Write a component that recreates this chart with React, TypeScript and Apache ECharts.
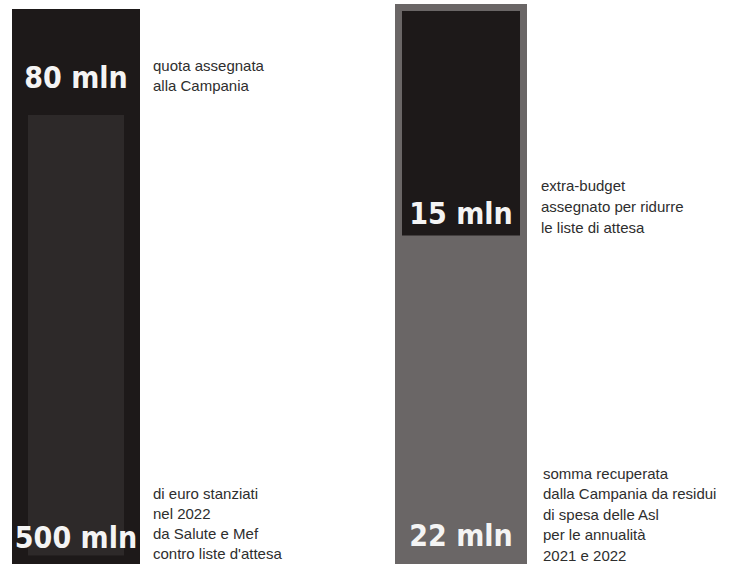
import React, { useEffect, useRef } from 'react';
import * as echarts from 'echarts';

// ---- data ----
const leftCategory = ['Italia'];
const nationalTotal = [500]; // mln di euro stanziati nel 2022
const campaniaQuota = [80]; // quota assegnata alla Campania
const rightCategory = ['Campania'];
const recoveredResidues = [22]; // somma recuperata da residui
const extraBudget = [15]; // extra-budget assegnato
const unit = 'mln';

const noteQuota = ['quota assegnata', 'alla Campania'];
const noteTotal = ['di euro stanziati', 'nel 2022', 'da Salute e Mef', "contro liste d'attesa"];
const noteExtra = ['extra-budget', 'assegnato per ridurre', 'le liste di attesa'];
const noteRecovered = [
  'somma recuperata',
  'dalla Campania da residui',
  'di spesa delle Asl',
  'per le annualità',
  '2021 e 2022',
];

const BIG_FONT = '"DejaVu Sans Condensed", "Liberation Sans", sans-serif';
const SMALL_FONT = '"Liberation Sans", "DejaVu Sans", sans-serif';
const BLACK = '#1d1919';
const DARK = '#2d2929';
const GRAY = '#6a6666';

const bigLabel = (text: string, distance: number) => ({
  show: true,
  position: 'insideBottom',
  distance,
  formatter: () => text,
  color: '#f4f4f4',
  fontSize: 30,
  fontWeight: 'bold',
  fontFamily: BIG_FONT,
});

export default function App() {
  const ref = useRef<HTMLDivElement>(null);
  useEffect(() => {
    if (!ref.current) return;
    const chart = echarts.init(ref.current, undefined, { renderer: 'svg' });
    const noteStyle = (lines: string[], lh: number) => ({
      text: lines.join('\n'),
      fill: '#2e2e2e',
      fontSize: 15,
      fontFamily: SMALL_FONT,
      lineHeight: lh,
    });
    chart.setOption({
      animation: false,
      backgroundColor: '#ffffff',
      grid: [
        { left: 12, width: 128, top: 9, height: 562.5, show: true, backgroundColor: BLACK, borderWidth: 0 },
        { left: 395, width: 132, top: 4, height: 588, show: true, backgroundColor: GRAY, borderWidth: 0 },
      ],
      xAxis: [
        { type: 'category', gridIndex: 0, data: leftCategory, show: false },
        { type: 'category', gridIndex: 1, data: rightCategory, show: false },
      ],
      yAxis: [
        { type: 'value', gridIndex: 0, min: 0, max: nationalTotal[0], show: false },
        { type: 'value', gridIndex: 1, min: 0, max: recoveredResidues[0] + extraBudget[0], show: false },
      ],
      series: [
        {
          type: 'bar',
          xAxisIndex: 0,
          yAxisIndex: 0,
          stack: 'left',
          barWidth: 128,
          data: nationalTotal.map((t, i) => t - campaniaQuota[i]),
          itemStyle: { color: DARK, borderColor: BLACK, borderWidth: 16 },
          label: bigLabel(`${nationalTotal[0]} ${unit}`, 19.5),
        },
        {
          type: 'bar',
          xAxisIndex: 0,
          yAxisIndex: 0,
          stack: 'left',
          barWidth: 128,
          data: campaniaQuota,
          itemStyle: { color: BLACK },
          label: bigLabel(`${campaniaQuota[0]} ${unit}`, 7),
        },
        {
          type: 'bar',
          xAxisIndex: 1,
          yAxisIndex: 1,
          stack: 'right',
          barWidth: 132,
          data: recoveredResidues,
          itemStyle: { color: GRAY },
          label: bigLabel(`${recoveredResidues[0]} ${unit}`, 42),
        },
        {
          type: 'bar',
          xAxisIndex: 1,
          yAxisIndex: 1,
          stack: 'right',
          barWidth: 132,
          data: extraBudget,
          itemStyle: { color: BLACK, borderColor: GRAY, borderWidth: 7 },
          label: bigLabel(`${extraBudget[0]} ${unit}`, 14),
        },
      ],
      graphic: [
        { type: 'text', left: 153, top: 55, style: noteStyle(noteQuota, 20) },
        { type: 'text', left: 153, top: 483, style: noteStyle(noteTotal, 20) },
        { type: 'text', left: 541, top: 175, style: noteStyle(noteExtra, 21) },
        { type: 'text', left: 543, top: 463, style: noteStyle(noteRecovered, 20.5) },
      ],
    });
    return () => chart.dispose();
  }, []);
  return (
    <div style={{ position: 'absolute', left: 0, top: 0, width: 737, height: 564, overflow: 'hidden' }}>
      <div ref={ref} style={{ width: 737, height: 600 }} />
    </div>
  );
}
